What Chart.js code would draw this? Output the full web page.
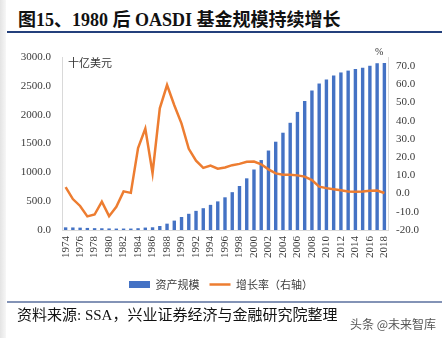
<!DOCTYPE html>
<html>
<head>
<meta charset="utf-8">
<script src="https://cdn.jsdelivr.net/npm/chart.js@4/dist/chart.umd.min.js"></script>
<style>
  html, body { margin: 0; padding: 0; background: #fff; }
  body { width: 442px; height: 338px; position: relative; overflow: hidden;
         font-family: "Liberation Serif", "Noto Sans CJK SC", serif; color: #1a1a1a; }
  .strip { position: absolute; left: 0; top: 0; width: 6px; height: 338px;
           background: linear-gradient(to right, #e4e4e4, #f7f7f7); }
  .title { position: absolute; left: 18px; top: 5px; font-size: 18px; font-weight: bold;
           white-space: nowrap; color: #111; }
  .rule1 { position: absolute; left: 7px; right: 0; top: 31px; height: 2px; background: #24407c; }
  .rule2 { position: absolute; left: 7px; right: 0; top: 301px; height: 1.5px; background: #8393b6; }
  .src { position: absolute; left: 17px; top: 303px; font-size: 15px; white-space: nowrap; color: #111; }
  .mark { position: absolute; left: 350px; top: 315px; font-size: 12px; white-space: nowrap;
          color: #555; font-family: "Noto Sans CJK SC", sans-serif; }
  .unitL { position: absolute; left: 68px; top: 54px; font-size: 11px; color: #333;
           font-family: "Noto Sans CJK SC", sans-serif; }
  .unitR { position: absolute; left: 375px; top: 46px; font-size: 10px; color: #333; }
  canvas { position: absolute; left: 0; top: 0; }
</style>
</head>
<body>
<div class="strip"></div>
<div class="title">图15、1980 后 OASDI 基金规模持续增长</div>
<div class="rule1"></div>
<canvas id="c" width="442" height="338"></canvas>
<div class="unitL">十亿美元</div>
<div class="unitR">%</div>
<div class="rule2"></div>
<div class="src">资料来源: SSA，兴业证券经济与金融研究院整理</div>
<div class="mark">头条 @未来智库</div>
<script>
// Years on the category axis
const years = [
  '1974','1975','1976','1977','1978','1979','1980','1981','1982','1983',
  '1984','1985','1986','1987','1988','1989','1990','1991','1992','1993',
  '1994','1995','1996','1997','1998','1999','2000','2001','2002','2003',
  '2004','2005','2006','2007','2008','2009','2010','2011','2012','2013',
  '2014','2015','2016','2017','2018'
];

// OASDI trust fund assets, billions of USD (left axis)
const assets = [
  46, 44, 41, 36, 32, 30, 27, 25, 25, 25,
  31, 42, 47, 69, 110, 163, 225, 281, 332, 378,
  436, 496, 567, 656, 763, 896, 1049, 1213, 1378, 1531,
  1687, 1859, 2048, 2239, 2419, 2540, 2609, 2678, 2732, 2764,
  2790, 2813, 2848, 2892, 2895
];

// Year-on-year growth rate, % (right axis)
const growth = [
  3.6, -3.0, -6.8, -12.5, -11.5, -4.4, -12.4, -7.3, 1.2, 0.4,
  25.0, 35.7, 11.2, 46.8, 59.6, 48.5, 38.4, 24.6, 18.1, 14.1,
  15.4, 13.7, 14.3, 15.6, 16.3, 17.5, 17.6, 16.1, 13.3, 11.1,
  10.4, 10.4, 10.0, 9.3, 7.4, 3.8, 3.0, 2.4, 1.8, 1.2,
  1.0, 1.1, 1.5, 1.7, 0.3
];

// Left / right axis ranges
const leftTicks = { min: 0, max: 3000, step: 500 };
const rightTicks = { min: -20, max: 75, step: 10 };

const serif = 'Liberation Serif';
const tickColor = '#3a3a3a';
const axisLine = '#d9d9d9';

new Chart(document.getElementById('c'), {
  type: 'bar',
  data: {
    labels: years,
    datasets: [
      {
        label: '资产规模',
        data: assets,
        yAxisID: 'y',
        backgroundColor: '#4472C4',
        borderWidth: 0,
        pointStyle: 'rect',
        categoryPercentage: 1,
        barPercentage: 0.47,
        order: 1
      },
      {
        type: 'line',
        label: '增长率（右轴）',
        data: growth,
        yAxisID: 'y1',
        borderColor: '#ED7D31',
        backgroundColor: '#ED7D31',
        borderWidth: 2.5,
        pointRadius: 0,
        pointHoverRadius: 0,
        pointStyle: 'line',
        tension: 0,
        order: 0
      }
    ]
  },
  options: {
    responsive: false,
    animation: false,
    layout: { padding: { top: 57, left: 0, right: 0, bottom: 38 } },
    plugins: {
      tooltip: { enabled: false },
      legend: {
        position: 'bottom',
        labels: {
          usePointStyle: true,
          pointStyleWidth: 21,
          boxHeight: 7,
          padding: 10,
          color: '#404040',
          font: { family: 'Noto Sans CJK SC', size: 11 },
          sort: (a, b) => a.datasetIndex - b.datasetIndex
        }
      }
    },
    scales: {
      x: {
        grid: { display: false, drawTicks: false },
        border: { display: true, color: axisLine },
        ticks: {
          autoSkip: false,
          maxRotation: 90,
          minRotation: 90,
          padding: 6,
          color: tickColor,
          font: { family: serif, size: 11 },
          callback: function (v, i) { return i % 2 === 0 ? this.getLabelForValue(v) : ''; }
        },
        afterFit: s => { s.height = 39; }
      },
      y: {
        position: 'left',
        min: leftTicks.min,
        max: leftTicks.max,
        grid: { display: false, drawTicks: false },
        border: { display: true, color: axisLine },
        ticks: {
          stepSize: leftTicks.step,
          padding: 11,
          color: tickColor,
          font: { family: serif, size: 11 },
          callback: v => v.toFixed(1)
        },
        afterFit: s => { s.width = 62; }
      },
      y1: {
        position: 'right',
        min: rightTicks.min,
        max: rightTicks.max,
        grid: { display: false, drawTicks: false },
        border: { display: true, color: axisLine },
        ticks: {
          stepSize: rightTicks.step,
          includeBounds: false,
          padding: 8,
          color: tickColor,
          font: { family: serif, size: 11 },
          callback: v => v.toFixed(1)
        },
        afterBuildTicks: s => {
          s.ticks = s.ticks.filter(t => {
            const r = Math.round(t.value / rightTicks.step) * rightTicks.step;
            return Math.abs(r - t.value) < 1e-6;
          });
        },
        afterFit: s => { s.width = 54; }
      }
    }
  }
});
</script>
</body>
</html>
